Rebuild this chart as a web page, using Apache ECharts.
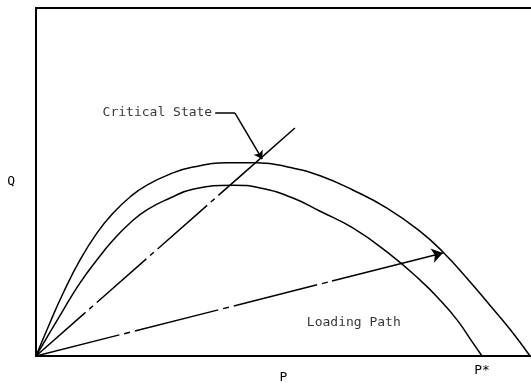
<!DOCTYPE html>
<html>
<head>
<meta charset="utf-8">
<script src="https://cdn.jsdelivr.net/npm/echarts@6/dist/echarts.min.js"></script>
<style>
  html, body { margin: 0; padding: 0; background: #fff; }
  #chart { width: 531px; height: 385px; }
</style>
</head>
<body>
<div id="chart"></div>
<script>
// Yield surfaces in the P–Q plane (arbitrary units, 0–100 on both axes)
const outerSurface = [[0,0],[2.8,9.5],[5.5,18.1],[8.9,27.6],[12.3,35.3],[15.6,41.1],[19.0,45.7],[22.4,49.1],[27.1,52.3],[31.7,54.3],[38.6,55.5],[44.6,55.5],[51.9,54.0],[57.4,51.8],[64.0,47.7],[70.9,42.5],[77.6,35.8],[82.2,29.9],[87.1,22.3],[91.7,14.6],[95.8,7.6],[99.8,0]];
const innerSurface = [[0,0],[5.5,13.2],[8.9,21.0],[12.3,27.6],[15.6,33.3],[19.0,38.2],[22.4,42.0],[27.1,45.4],[31.7,47.9],[39.8,49.1],[45.3,48.3],[51.9,45.4],[57.4,41.6],[64.0,36.8],[70.9,29.9],[77.6,21.8],[81.6,16.1],[85.1,10.3],[88.3,3.7],[90.1,0]];

// Critical state line: chain-dashed part, then solid part
const criticalDashed = [[0,0],[42.6,53.35]];
const criticalSolid = [[42.6,53.35],[52.3,65.5]];

// Loading path: chain-dashed part, then solid part ending in an arrow
const loadingDashed = [[0,0],[59.8,21.53]];
const loadingSolid = [[59.8,21.53],[82.2,29.6]];

// Leader for the "Critical State" note
const leaderFlat = [[36.2,69.8],[40.2,69.8]];
const leaderArrow = [[40.2,69.8],[45.7,56.6]];

// Text notes and axis labels
const notes = [
  { text: 'Critical State', at: [36.2,69.8] },
  { text: 'Loading Path', at: [64.2,9.5] }
];
const pStar = 90.1;
const xName = 'P';
const yName = 'Q';
const pStarLabel = 'P*';

const ink = '#000';
const font = 'DejaVu Sans Mono';

const chart = echarts.init(document.getElementById('chart'), null, { renderer: 'canvas' });

const curve = (data) => ({
  type: 'line', data, smooth: 0.5, showSymbol: false, symbol: 'none',
  lineStyle: { color: ink, width: 1.5 }, silent: true, z: 3
});
const seg = (coords, type, arrowSize) => ({
  type: 'lines', coordinateSystem: 'cartesian2d', silent: true, z: 4,
  symbol: arrowSize ? ['none', 'arrow'] : 'none',
  symbolSize: arrowSize ? [0, arrowSize] : 0,
  lineStyle: { color: ink, width: 1.5, type, opacity: 1, curveness: 0 },
  itemStyle: { color: ink },
  data: [{ coords }]
});

chart.setOption({
  animation: false,
  backgroundColor: '#fff',
  grid: { left: 36, right: 0, top: 8, bottom: 29, containLabel: false, outerBoundsMode: 'none' },
  xAxis: [
    {
      type: 'value', min: 0, max: 100, position: 'bottom',
      name: xName, nameLocation: 'middle', nameGap: 15, nameMoveOverlap: false,
      nameTextStyle: { fontFamily: font, fontSize: 13, color: ink },
      axisLine: { show: true, lineStyle: { color: ink, width: 2 } },
      axisTick: { show: false }, splitLine: { show: false },
      axisLabel: {
        show: true, customValues: [pStar], margin: 8,
        formatter: () => pStarLabel,
        fontFamily: font, fontSize: 13, color: ink
      }
    },
    {
      type: 'value', min: 0, max: 100, position: 'top',
      axisLine: { show: true, lineStyle: { color: ink, width: 2 } },
      axisTick: { show: false }, axisLabel: { show: false }, splitLine: { show: false }
    }
  ],
  yAxis: {
    type: 'value', min: 0, max: 100,
    name: yName, nameLocation: 'middle', nameGap: 21, nameRotate: 0,
    nameTextStyle: { fontFamily: font, fontSize: 13, color: ink },
    axisLine: { show: true, lineStyle: { color: ink, width: 2 } },
    axisTick: { show: false }, axisLabel: { show: false }, splitLine: { show: false }
  },
  series: [
    curve(outerSurface),
    curve(innerSurface),
    seg(criticalDashed, [66, 5, 5, 5]),
    seg(criticalSolid, 'solid'),
    seg(loadingDashed, [86, 5, 6, 5]),
    seg(loadingSolid, 'solid', 11),
    seg(leaderFlat, 'solid'),
    seg(leaderArrow, 'solid', 8),
    {
      type: 'scatter', symbolSize: 0, silent: true, z: 5,
      data: notes.map((n, i) => ({
        value: n.at,
        label: {
          show: true, formatter: n.text,
          position: i === 0 ? 'left' : 'inside',
          distance: 3,
          fontFamily: font, fontSize: 13, color: ink
        }
      }))
    }
  ]
});
</script>
</body>
</html>
